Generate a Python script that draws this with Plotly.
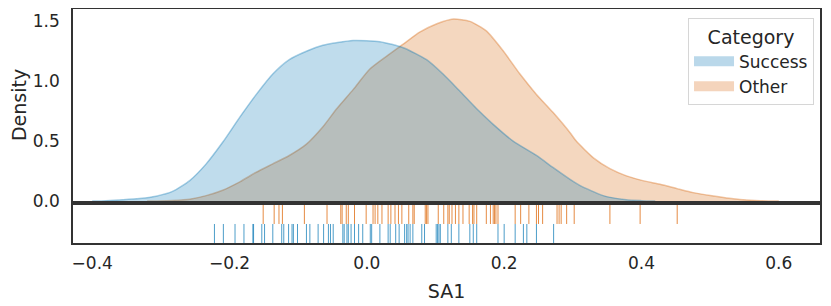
import plotly.graph_objects as go

# ---- data ----
success_x = [-0.40, -0.38, -0.355, -0.331, -0.307, -0.283, -0.258, -0.234, -0.21, -0.185,
             -0.161, -0.137, -0.113, -0.088, -0.064, -0.020, 0.019, 0.053, 0.087, 0.111,
             0.135, 0.160, 0.184, 0.213, 0.247, 0.271, 0.296, 0.310, 0.344, 0.378, 0.40, 0.42]
success_y = [0.0, 0.003, 0.01, 0.02, 0.04, 0.08, 0.17, 0.31, 0.49, 0.70,
             0.89, 1.06, 1.18, 1.25, 1.30, 1.34, 1.33, 1.28, 1.18, 1.06,
             0.92, 0.77, 0.64, 0.50, 0.38, 0.28, 0.18, 0.13, 0.045, 0.01, 0.003, 0.0]

other_x = [-0.32, -0.283, -0.258, -0.234, -0.21, -0.185, -0.161, -0.137, -0.113, -0.088,
           -0.064, -0.044, -0.020, 0.004, 0.029, 0.053, 0.077, 0.102, 0.126, 0.150,
           0.174, 0.199, 0.223, 0.247, 0.271, 0.296, 0.305, 0.330, 0.354, 0.378,
           0.402, 0.427, 0.451, 0.475, 0.500, 0.524, 0.548, 0.573, 0.60]
other_y = [0.0, 0.005, 0.015, 0.045, 0.09, 0.16, 0.24, 0.31, 0.38, 0.475,
           0.62, 0.77, 0.93, 1.10, 1.21, 1.31, 1.41, 1.48, 1.52, 1.50,
           1.42, 1.25, 1.06, 0.89, 0.74, 0.57, 0.50, 0.36, 0.27, 0.21,
           0.17, 0.14, 0.105, 0.07, 0.045, 0.025, 0.01, 0.003, 0.0]

success_rug = [-0.222, -0.209, -0.192, -0.179, -0.166, -0.165, -0.153, -0.149, -0.137, -0.124,
               -0.121, -0.114, -0.109, -0.107, -0.101, -0.088, -0.083, -0.071, -0.063, -0.056,
               -0.053, -0.049, -0.035, -0.033, -0.029, -0.027, -0.023, -0.018, -0.012, -0.006,
               0.005, 0.007, 0.019, 0.031, 0.034, 0.042, 0.047, 0.055, 0.058, 0.060,
               0.063, 0.067, 0.080, 0.084, 0.101, 0.103, 0.105, 0.107, 0.118, 0.123,
               0.134, 0.150, 0.155, 0.160, 0.191, 0.200, 0.216, 0.228, 0.233, 0.247, 0.272]
other_rug = [-0.151, -0.135, -0.128, -0.123, -0.091, -0.058, -0.038, -0.036, -0.030, -0.027,
             -0.018, -0.001, 0.009, 0.012, 0.016, 0.022, 0.031, 0.035, 0.041, 0.046,
             0.051, 0.061, 0.067, 0.069, 0.085, 0.087, 0.089, 0.104, 0.112, 0.118,
             0.120, 0.124, 0.129, 0.134, 0.140, 0.149, 0.154, 0.156, 0.160, 0.174,
             0.180, 0.184, 0.186, 0.188, 0.191, 0.216, 0.224, 0.236, 0.247, 0.250,
             0.256, 0.277, 0.280, 0.283, 0.291, 0.302, 0.354, 0.398, 0.452]

x_ticks = [-0.4, -0.2, 0.0, 0.2, 0.4, 0.6]
x_tick_labels = ["\u22120.4", "\u22120.2", "0.0", "0.2", "0.4", "0.6"]
y_ticks = [0.0, 0.5, 1.0, 1.5]
y_tick_labels = ["0.0", "0.5", "1.0", "1.5"]

BLUE = (1, 115, 178)
ORANGE = (213, 94, 0)
RUG_ORANGE = (222, 110, 20)


def rgba(c, a):
    return f"rgba({c[0]},{c[1]},{c[2]},{a})"


def rug_segments(vals, y0, y1):
    xs, ys = [], []
    for v in vals:
        xs += [v, v, None]
        ys += [y0, y1, None]
    return xs, ys


fig = go.Figure()

fig.add_trace(go.Scatter(
    x=other_x, y=other_y, mode="lines", name="Other", showlegend=False,
    line=dict(color=rgba(ORANGE, 0.35), width=1.5, shape="spline", smoothing=0.6),
    fill="tozeroy", fillcolor=rgba(ORANGE, 0.25), xaxis="x", yaxis="y"))
fig.add_trace(go.Scatter(
    x=success_x, y=success_y, mode="lines", name="Success", showlegend=False,
    line=dict(color=rgba(BLUE, 0.35), width=1.5, shape="spline", smoothing=0.6),
    fill="tozeroy", fillcolor=rgba(BLUE, 0.25), xaxis="x", yaxis="y"))

# legend swatches
fig.add_trace(go.Scatter(x=[None], y=[None], mode="lines", name="Success", legendrank=1,
                         line=dict(color="rgb(186,216,234)", width=12), xaxis="x", yaxis="y"))
fig.add_trace(go.Scatter(x=[None], y=[None], mode="lines", name="Other", legendrank=2,
                         line=dict(color="rgb(244,212,188)", width=12), xaxis="x", yaxis="y"))

rx, ry = rug_segments(other_rug, 1, 2)
fig.add_trace(go.Scatter(x=rx, y=ry, mode="lines", showlegend=False,
                         line=dict(color=rgba(RUG_ORANGE, 0.8), width=1),
                         xaxis="x2", yaxis="y2", hoverinfo="skip"))
rx, ry = rug_segments(success_rug, 0, 1)
fig.add_trace(go.Scatter(x=rx, y=ry, mode="lines", showlegend=False,
                         line=dict(color=rgba(BLUE, 0.7), width=1),
                         xaxis="x2", yaxis="y2", hoverinfo="skip"))

FRAME = "#333333"
TXT = "#262626"
xrange = [-0.428, 0.66]

# the page body adds an 8px offset; sizes compensate for it
fig.update_layout(
    width=823, height=298,
    margin=dict(l=65, r=11, t=1, b=63),
    paper_bgcolor="white", plot_bgcolor="white",
    font=dict(family="DejaVu Sans", size=17, color=TXT),
    showlegend=True,
    legend=dict(
        x=0.992, y=0.962, xanchor="right", yanchor="top",
        bgcolor="white", bordercolor="#d6d6d6", borderwidth=1,
        font=dict(size=17, color=TXT),
        title=dict(text="Category", side="top center", font=dict(size=19, color=TXT)),
        itemwidth=40, tracegroupgap=0,
    ),
    xaxis=dict(domain=[0, 1], range=xrange, showticklabels=False, showgrid=False,
               zeroline=False, showline=True, mirror=True, linecolor=FRAME, linewidth=1.6,
               tickvals=x_ticks, ticks="", anchor="y", automargin=False),
    yaxis=dict(domain=[0.1795, 1], range=[0, 1.603], showgrid=False, zeroline=False,
               showline=True, mirror=True, linecolor=FRAME, linewidth=1.6,
               tickvals=y_ticks, ticktext=y_tick_labels, ticks="", ticklabelstandoff=8,
               tickfont=dict(size=17, color=TXT), automargin=False,
               title=dict(text="Density", font=dict(size=19, color=TXT), standoff=4),
               anchor="x"),
    xaxis2=dict(domain=[0, 1], range=xrange, showgrid=False, zeroline=False,
                showline=True, mirror=True, linecolor=FRAME, linewidth=1.6,
                tickvals=x_ticks, ticktext=x_tick_labels, ticks="", ticklabelstandoff=4,
                tickfont=dict(size=17, color=TXT), automargin=False,
                title=dict(text="SA1", font=dict(size=19, color=TXT), standoff=12),
                anchor="y2", matches="x"),
    yaxis2=dict(domain=[0, 0.1624], range=[0, 2], showgrid=False, zeroline=False,
                showline=True, mirror=True, linecolor=FRAME, linewidth=1.6,
                showticklabels=False, ticks="", anchor="x2", automargin=False),
)

fig.write_html("out.html")
